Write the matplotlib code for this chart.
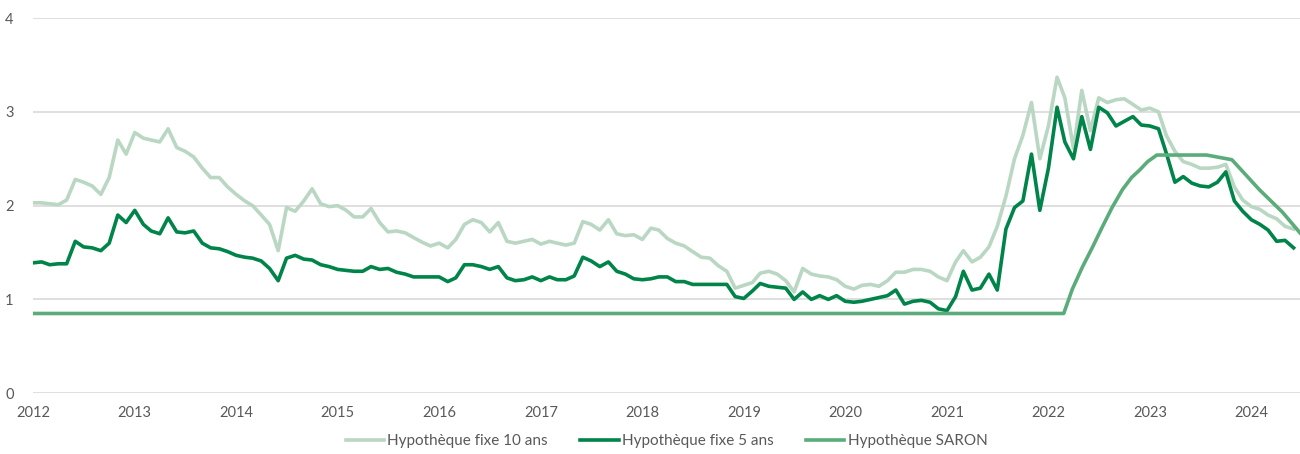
import pandas as pd
import matplotlib
matplotlib.use("Agg")
import matplotlib.pyplot as plt
import matplotlib.dates as mdates

plt.rcParams['font.family'] = ['Lato', 'DejaVu Sans']

# monthly readings, Jan 2012 .. Jun 2024
months = pd.date_range('2012-01-01', '2024-06-01', freq='MS')

fixe_10 = [
    2.03, 2.03, 2.02, 2.01, 2.06, 2.28, 2.25, 2.21, 2.12, 2.30, 2.70, 2.55,  # 2012
    2.78, 2.72, 2.70, 2.68, 2.82, 2.62, 2.58, 2.52, 2.40, 2.30, 2.30, 2.20,  # 2013
    2.12, 2.05, 2.00, 1.90, 1.80, 1.52, 1.98, 1.94, 2.05, 2.18, 2.02, 1.99,  # 2014
    2.00, 1.95, 1.88, 1.88, 1.97, 1.82, 1.72, 1.73, 1.71, 1.66, 1.61, 1.57,  # 2015
    1.60, 1.55, 1.64, 1.80, 1.85, 1.82, 1.72, 1.82, 1.62, 1.60, 1.62, 1.64,  # 2016
    1.59, 1.62, 1.60, 1.58, 1.60, 1.83, 1.80, 1.74, 1.85, 1.70, 1.68, 1.69,  # 2017
    1.64, 1.76, 1.74, 1.65, 1.60, 1.57, 1.51, 1.45, 1.44, 1.36, 1.30, 1.12,  # 2018
    1.15, 1.18, 1.28, 1.30, 1.27, 1.20, 1.08, 1.33, 1.27, 1.25, 1.24, 1.21,  # 2019
    1.14, 1.11, 1.15, 1.16, 1.14, 1.20, 1.29, 1.29, 1.32, 1.32, 1.30, 1.24,  # 2020
    1.20, 1.40, 1.52, 1.40, 1.45, 1.56, 1.78, 2.10, 2.50, 2.75, 3.10, 2.50,  # 2021
    2.85, 3.37, 3.15, 2.61, 3.23, 2.80, 3.15, 3.10, 3.13, 3.14, 3.08, 3.02,  # 2022
    3.04, 3.00, 2.75, 2.58, 2.47, 2.44, 2.40, 2.40, 2.41, 2.44, 2.20, 2.06,  # 2023
    1.99, 1.96, 1.90, 1.86, 1.78, 1.75,                                      # 2024
]

fixe_5 = [
    1.39, 1.40, 1.37, 1.38, 1.38, 1.62, 1.56, 1.55, 1.52, 1.60, 1.90, 1.82,  # 2012
    1.95, 1.80, 1.73, 1.70, 1.87, 1.72, 1.71, 1.73, 1.60, 1.55, 1.54, 1.51,  # 2013
    1.47, 1.45, 1.44, 1.41, 1.33, 1.20, 1.44, 1.47, 1.43, 1.42, 1.37, 1.35,  # 2014
    1.32, 1.31, 1.30, 1.30, 1.35, 1.32, 1.33, 1.29, 1.27, 1.24, 1.24, 1.24,  # 2015
    1.24, 1.19, 1.23, 1.37, 1.37, 1.35, 1.32, 1.35, 1.23, 1.20, 1.21, 1.24,  # 2016
    1.20, 1.24, 1.21, 1.21, 1.25, 1.45, 1.41, 1.35, 1.40, 1.30, 1.27, 1.22,  # 2017
    1.21, 1.22, 1.24, 1.24, 1.19, 1.19, 1.16, 1.16, 1.16, 1.16, 1.16, 1.03,  # 2018
    1.01, 1.09, 1.17, 1.14, 1.13, 1.12, 1.00, 1.08, 1.00, 1.04, 1.00, 1.04,  # 2019
    0.98, 0.97, 0.98, 1.00, 1.02, 1.04, 1.10, 0.95, 0.98, 0.99, 0.97, 0.90,  # 2020
    0.88, 1.03, 1.30, 1.10, 1.12, 1.27, 1.10, 1.75, 1.98, 2.05, 2.55, 1.95,  # 2021
    2.40, 3.05, 2.68, 2.50, 2.95, 2.60, 3.05, 2.99, 2.85, 2.90, 2.95, 2.86,  # 2022
    2.85, 2.82, 2.56, 2.25, 2.31, 2.24, 2.21, 2.20, 2.25, 2.36, 2.05, 1.94,  # 2023
    1.85, 1.80, 1.74, 1.62, 1.63, 1.55,                                      # 2024
]

saron_dates = pd.to_datetime([
    '2012-01-01', '2022-02-25', '2022-03-28', '2022-05-04', '2022-06-09',
    '2022-07-15', '2022-08-18', '2022-09-24', '2022-10-27', '2022-11-25',
    '2022-12-24', '2023-01-26', '2023-07-24', '2023-10-23', '2024-01-30',
    '2024-04-22', '2024-06-24',
])
saron = [0.85, 0.85, 1.11, 1.35, 1.56, 1.78, 1.98, 2.17, 2.30, 2.38,
         2.47, 2.54, 2.54, 2.49, 2.17, 1.93, 1.71]

labels = ['Hypothèque fixe 10 ans', 'Hypothèque fixe 5 ans', 'Hypothèque SARON']
colors = ['#b9d7c2', '#00844a', '#5aac7a']

fig = plt.figure(figsize=(13, 4.54), dpi=100)
ax = fig.add_axes([0.0254, 0.134, 0.9746, 0.826])

ax.plot(months, fixe_10, color=colors[0], lw=2.6, label=labels[0])
ax.plot(months, fixe_5, color=colors[1], lw=2.6, label=labels[1])
ax.plot(saron_dates, saron, color=colors[2], lw=2.6, label=labels[2])

ax.set_xlim(pd.Timestamp('2012-01-01'), pd.Timestamp('2024-06-24'))
ax.set_ylim(0, 4)
ax.set_yticks([0, 1, 2, 3, 4])
ax.xaxis.set_major_locator(mdates.YearLocator())
ax.xaxis.set_major_formatter(mdates.DateFormatter('%Y'))

ax.grid(axis='y', color='#d9d9d9', lw=1.2)
ax.set_axisbelow(True)
for s in ax.spines.values():
    s.set_visible(False)
ax.tick_params(axis='both', length=0, labelsize=10.5, colors='#595959')
ax.tick_params(axis='x', pad=9)
ax.tick_params(axis='y', pad=14)

ax.legend(loc='center', bbox_to_anchor=(0.5, -0.128), ncol=3, frameon=False,
          fontsize=11, handlelength=2.5, handletextpad=0.2, columnspacing=2.15,
          labelcolor='#595959', borderaxespad=0, borderpad=0)

fig.savefig('out.png', dpi=100)
